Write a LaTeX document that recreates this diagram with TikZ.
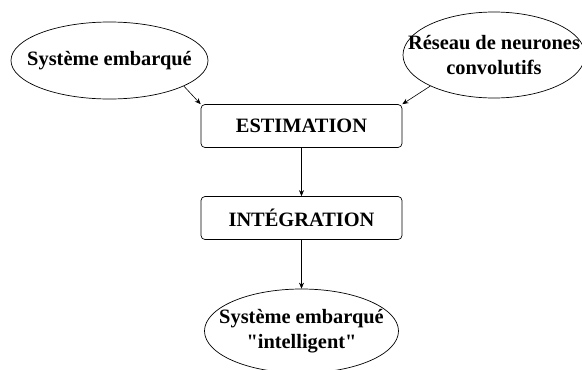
\documentclass[tikz,border=0pt]{standalone}
\usepackage{fontspec}
\setmainfont{Liberation Serif}
% same face without the TeX input mapping, so that " stays a straight quote
\newfontfamily\straightq{Liberation Serif}[Ligatures=TeXOff]
\newcommand{\sq}{{\straightq\bfseries\symbol{34}}}
\usetikzlibrary{shapes.geometric,arrows.meta}
\tikzset{
  every node/.style={font=\bfseries\fontsize{20.4}{25}\selectfont, align=center, inner sep=0pt},
  oval/.style={ellipse, draw, line width=0.7pt},
  stage/.style={rectangle, draw, rounded corners=4pt, line width=0.7pt,
                minimum width=201pt, minimum height=43pt},
  link/.style={-{Stealth[length=6pt,width=5pt]}, line width=0.6pt}
}
\begin{document}
\begin{tikzpicture}[x=1pt,y=-1pt]
  \useasboundingbox (0,0) rectangle (582,370);
  % inputs (the text may run over the outline, so it sits in a centred label)
  \node[oval, minimum width=197pt, minimum height=77pt,
        label={center:Système embarqué}] (emb) at (109.5,60.5) {};
  \node[oval, minimum width=182pt, minimum height=86pt,
        label={center:Réseau de neurones\\convolutifs}] (cnn) at (494,55) {};
  % processing stages
  \node[stage] (est) at (301.5,126) {ESTIMATION};
  \node[stage] (integ) at (301.5,218) {INTÉGRATION};
  % result
  \node[oval, minimum width=194pt, minimum height=84pt,
        label={center:Système embarqué\\\sq intelligent\sq}] (res) at (301.5,331) {};
  % connectors
  \draw[link] (emb.-19) -- (est.north west);
  \draw[link] (cnn.206) -- (est.north east);
  \draw[link] (est.south) -- (integ.north);
  \draw[link] (integ.south) -- (res.north);
\end{tikzpicture}
\end{document}
